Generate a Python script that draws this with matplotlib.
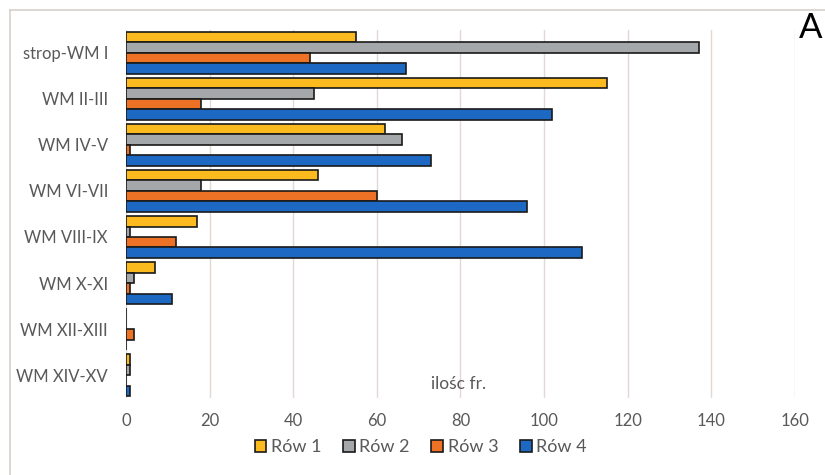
import numpy as np
import matplotlib.pyplot as plt
from matplotlib.lines import Line2D

plt.rcParams['font.family'] = ['Lato', 'DejaVu Sans']

# categories, top to bottom
categories = ['strop-WM I', 'WM II-III', 'WM IV-V', 'WM VI-VII',
              'WM VIII-IX', 'WM X-XI', 'WM XII-XIII', 'WM XIV-XV']
series_names = ['Rów 1', 'Rów 2', 'Rów 3', 'Rów 4']
row1 = [55, 115, 62, 46, 17, 7, 0, 1]
row2 = [137, 45, 66, 18, 1, 2, 0, 1]
row3 = [44, 18, 1, 60, 12, 1, 2, 0]
row4 = [67, 102, 73, 96, 109, 11, 0, 1]
xticks = [0, 20, 40, 60, 80, 100, 120, 140, 160]

colors = ['#FBBA1E', '#A5A8AB', '#EE7226', '#1D68C2']
series = [row1, row2, row3, row4]

fig = plt.figure(figsize=(8.25, 4.75), dpi=100)
ax = fig.add_axes([0.1527, 0.162, 0.8109, 0.775])

y = np.arange(len(categories))
h = 0.228
for i, (vals, col, name) in enumerate(zip(series, colors, series_names)):
    ax.barh(y - 1.5 * h + i * h, vals, height=h, color=col,
            edgecolor='#1a1a1a', linewidth=1.2, label=name, zorder=3)

ax.set_xlim(0, 160)
ax.set_ylim(len(categories) - 0.5, -0.5)
ax.set_xticks(xticks)
ax.set_yticks(y)
ax.set_yticklabels(categories)
ax.tick_params(axis='both', length=0, colors='#595959', labelsize=12)
ax.tick_params(axis='x', pad=11)
ax.tick_params(axis='y', pad=13)
ax.xaxis.grid(True, color='#e2d9d6', linewidth=1, zorder=0)
for s in ax.spines.values():
    s.set_visible(False)

ax.text(73, 7.2, 'ilośc fr.', color='#595959', fontsize=12.5, ha='left', va='center')

fig.text(0.982, 0.94, 'A', fontsize=25, ha='center', va='center', color='black')

# outer border (top and left)
fig.add_artist(Line2D([0.012, 1.0], [0.979, 0.979], color='#d8cfcc', linewidth=1.2))
fig.add_artist(Line2D([0.012, 0.012], [0.0, 0.979], color='#d8cfcc', linewidth=1.2))

handles = [plt.Rectangle((0, 0), 1, 1, facecolor=c, edgecolor='#1a1a1a', linewidth=1.2)
           for c in colors]
fig.legend(handles, series_names, loc='center', bbox_to_anchor=(0.51, 0.058),
           ncol=4, frameon=False, fontsize=13, handlelength=0.65, handleheight=0.65,
           handletextpad=0.25, columnspacing=1.2, labelcolor='#595959')

fig.savefig('out.png', dpi=100)
